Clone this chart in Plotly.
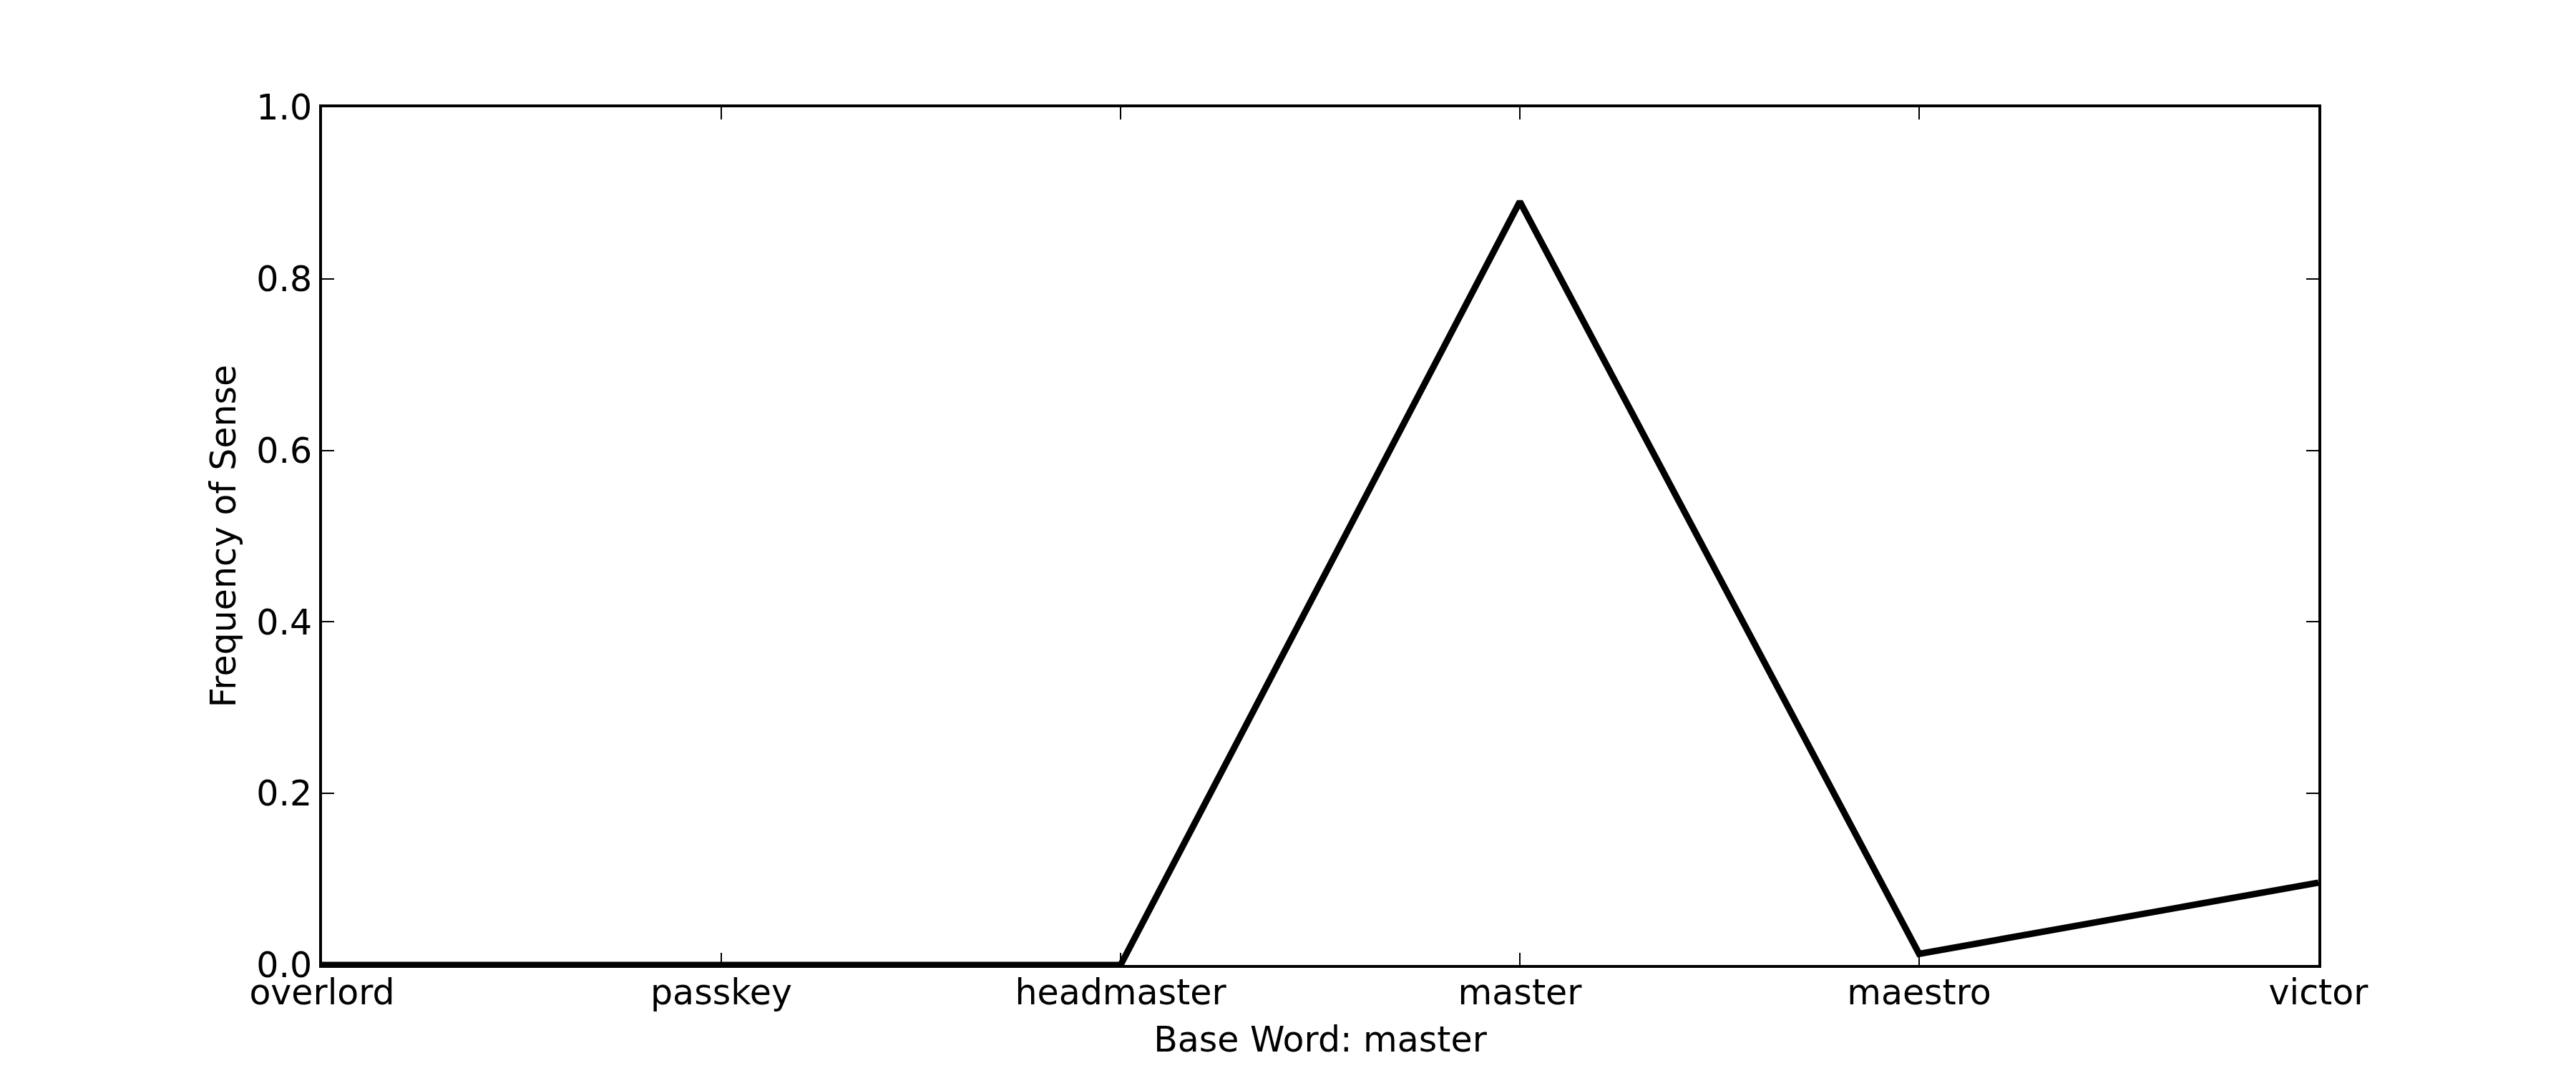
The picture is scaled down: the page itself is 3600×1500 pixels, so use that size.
import plotly.graph_objects as go

categories = ["overlord", "passkey", "headmaster", "master", "maestro", "victor"]
frequency = [0.0, 0.0, 0.0, 0.89, 0.013, 0.096]
y_ticks = [0.0, 0.2, 0.4, 0.6, 0.8, 1.0]

FONT = "DejaVu Sans"

fig = go.Figure()
fig.add_trace(go.Scatter(
    x=categories, y=frequency, mode="lines",
    line=dict(color="black", width=9), showlegend=False,
    cliponaxis=False,
))

axis_common = dict(
    showgrid=False, zeroline=False, showline=True, linecolor="black", linewidth=4,
    mirror="ticks", ticks="inside", ticklen=17, tickwidth=2, tickcolor="black",
    tickfont=dict(family=FONT, size=49, color="black"),
)

fig.update_layout(
    width=3600, height=1500,
    margin=dict(l=450, r=360, t=150, b=151),
    paper_bgcolor="white", plot_bgcolor="white",
    font=dict(family=FONT, color="black"),
    xaxis=dict(
        type="category", range=[0, 5], ticklabelstandoff=-8,
        title=dict(text="Base Word: master", font=dict(family=FONT, size=49), standoff=22),
        **axis_common,
    ),
    yaxis=dict(
        range=[0, 1], tickvals=y_ticks, tickformat=".1f",
        title=dict(text="Frequency of Sense", font=dict(family=FONT, size=49), standoff=14),
        **axis_common,
    ),
)

fig.write_html("out.html")
